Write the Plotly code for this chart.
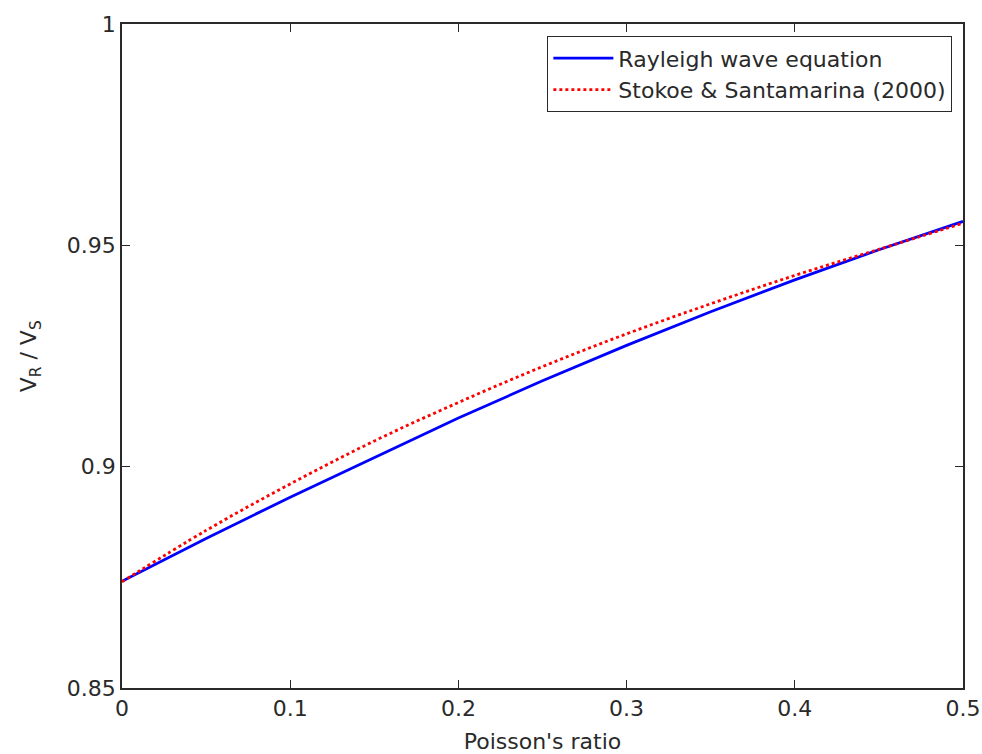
import plotly.graph_objects as go

# Poisson's ratio samples
poisson = [0.0, 0.05, 0.10, 0.15, 0.20, 0.25, 0.30, 0.35, 0.40, 0.45, 0.50]

# VR/VS from the Rayleigh wave equation
rayleigh = [0.8741, 0.8838, 0.8931, 0.9020, 0.9110, 0.9194, 0.9274, 0.9350, 0.9422, 0.9490, 0.9554]

# VR/VS from Stokoe & Santamarina (2000)
stokoe = [0.8740, 0.8856, 0.8961, 0.9058, 0.9145, 0.9226, 0.9300, 0.9368, 0.9432, 0.9491, 0.9550]

x_ticks = [0, 0.1, 0.2, 0.3, 0.4, 0.5]
x_ticklabels = ["0", "0.1", "0.2", "0.3", "0.4", "0.5"]
y_ticks = [0.85, 0.9, 0.95, 1.0]
y_ticklabels = ["0.85", "0.9", "0.95", "1"]

FONT = "DejaVu Sans, Liberation Sans, sans-serif"
INK = "#2a2a2a"
FS = 22

fig = go.Figure()
fig.add_trace(go.Scatter(
    x=poisson, y=rayleigh, mode="lines",
    name="Rayleigh wave equation",
    line=dict(color="#0000ff", width=2.8),
))
fig.add_trace(go.Scatter(
    x=poisson, y=stokoe, mode="lines",
    name="Stokoe & Santamarina (2000)",
    line=dict(color="#ff0000", width=2.8, dash="dot", shape="spline"),
))

axis_common = dict(
    showline=True, linecolor=INK, linewidth=1.6, mirror="ticks",
    ticks="inside", ticklen=8, tickwidth=1.4, tickcolor=INK,
    showgrid=False, zeroline=False, automargin=False,
    tickfont=dict(family=FONT, size=FS, color=INK),
)

fig.update_layout(
    width=982, height=754,
    margin=dict(l=122, r=19, t=24, b=66),
    paper_bgcolor="white", plot_bgcolor="white",
    showlegend=True,
    legend=dict(
        x=0.987, y=0.982, xanchor="right", yanchor="top",
        bgcolor="white", bordercolor=INK, borderwidth=1.3,
        font=dict(family=FONT, size=FS, color=INK),
        tracegroupgap=0, itemwidth=60,
    ),
    xaxis=dict(
        range=[0, 0.5], tickvals=x_ticks, ticktext=x_ticklabels,
        title=dict(text="Poisson's ratio",
                   font=dict(family=FONT, size=FS, color=INK)),
        **axis_common,
    ),
    yaxis=dict(
        range=[0.85, 1.0], tickvals=y_ticks, ticktext=y_ticklabels,
        **axis_common,
    ),
    annotations=[dict(
        text="V<sub>R</sub> / V<sub>S</sub>",
        xref="paper", yref="paper", x=-0.109, y=0.5,
        xanchor="center", yanchor="middle", textangle=-90,
        showarrow=False, font=dict(family=FONT, size=FS, color=INK),
    )],
)

fig.write_html("out.html")
